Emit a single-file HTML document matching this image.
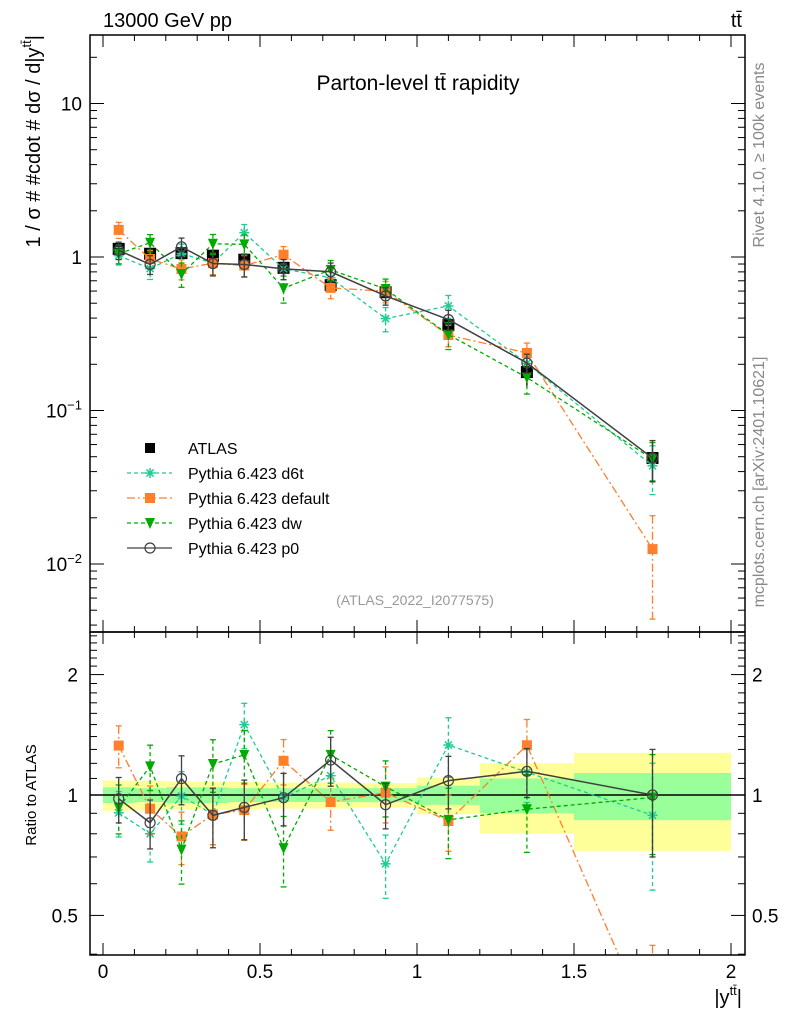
<!DOCTYPE html>
<html><head><meta charset="utf-8">
<style>
html,body{margin:0;padding:0;background:#fff;width:786px;height:1024px;overflow:hidden;}
svg{display:block;font-family:"Liberation Sans",sans-serif;}
</style></head>
<body>
<svg id="c" width="786" height="1024" xmlns="http://www.w3.org/2000/svg"></svg>
<script>
const xCenters=[0.05,0.15,0.25,0.35,0.45,0.575,0.725,0.9,1.1,1.35,1.75];
const binEdges=[0,0.1,0.2,0.3,0.4,0.5,0.65,0.8,1.0,1.2,1.5,2.0];
const atlasVals=[1.13,1.05,1.06,1.02,0.96,0.85,0.655,0.59,0.36,0.178,0.049];
const atlasTotErr=[0.087,0.085,0.08,0.08,0.08,0.075,0.075,0.07,0.105,0.2,0.275];
const atlasStatErr=[0.045,0.04,0.045,0.045,0.04,0.04,0.04,0.04,0.055,0.1,0.135];
const d6tVals=[1.02,0.84,1.054,0.912,1.44,0.837,0.732,0.397,0.48,0.203,0.0436];
const d6tErr=[0.13,0.15,0.15,0.16,0.13,0.15,0.14,0.18,0.17,0.16,0.35];
const defVals=[1.502,0.970,0.835,0.912,0.880,1.035,0.629,0.598,0.310,0.237,0.0125];
const defErr=[0.12,0.14,0.15,0.16,0.16,0.13,0.15,0.16,0.16,0.16,0.65];
const dwVals=[1.050,1.238,0.774,1.219,1.209,0.626,0.825,0.619,0.312,0.164,0.0483];
const dwErr=[0.14,0.13,0.18,0.15,0.15,0.2,0.15,0.16,0.2,0.22,0.28];
const p0Vals=[1.106,0.895,1.165,0.907,0.894,0.837,0.801,0.558,0.391,0.204,0.049];
const p0Err=[0.13,0.14,0.14,0.17,0.17,0.15,0.14,0.13,0.15,0.14,0.30];
const xTicks=[0,0.5,1,1.5,2];
const xTickLabels=["0","0.5","1","1.5","2"];

const NS="http://www.w3.org/2000/svg";
const svg=document.getElementById('c');
function mk(tag,attrs,parent){const e=document.createElementNS(NS,tag);for(const k in attrs)e.setAttribute(k,attrs[k]);(parent||svg).appendChild(e);return e;}
const L=90,R=745,T=35,MB=632,RB=955;
const X=v=>103+(v)*314;
const Y=v=>257-153.5*Math.log10(v);
const RY=v=>795-400*Math.log10(v);

const defs=mk('defs',{});
const cp1=mk('clipPath',{id:'cm'},defs);mk('rect',{x:L,y:T,width:R-L,height:MB-T},cp1);
const cp2=mk('clipPath',{id:'cr'},defs);mk('rect',{x:L,y:MB,width:R-L,height:RB-MB},cp2);

const gR=mk('g',{'clip-path':'url(#cr)'});

for(let i=0;i<xCenters.length;i++){
  const x1=X(binEdges[i]),x2=X(binEdges[i+1]);
  const b=mk('rect',{x:x1,y:RY(1+atlasTotErr[i]),width:x2-x1,height:RY(1-atlasTotErr[i])-RY(1+atlasTotErr[i]),fill:'#ffff99'},gR);
  
  
  const g=mk('rect',{x:x1,y:RY(1+atlasStatErr[i]),width:x2-x1,height:RY(1-atlasStatErr[i])-RY(1+atlasStatErr[i]),fill:'#99ff99'},gR);
  
  
}
mk('line',{x1:L,x2:R,y1:RY(1),y2:RY(1),stroke:'#000','stroke-width':1.5},gR);

const gM=mk('g',{'clip-path':'url(#cm)'});


function marker(parent,type,x,y,col){
  const s=5;
  if(type==='sq') return mk('rect',{x:x-s,y:y-s,width:2*s,height:2*s,fill:col},parent);
  if(type==='tri') return mk('polygon',{points:`${x-s},${y-s} ${x+s},${y-s} ${x},${y+s+1}`,fill:col},parent);
  if(type==='circ') return mk('circle',{cx:x,cy:y,r:5,fill:'none',stroke:col,'stroke-width':1.2},parent);
  if(type==='star'){const g=mk('g',{stroke:col,'stroke-width':1.5},parent);
    for(let a=0;a<4;a++){const t=a*Math.PI/4;mk('line',{x1:x-s*Math.cos(t),y1:y-s*Math.sin(t),x2:x+s*Math.cos(t),y2:y+s*Math.sin(t)},g);}return g;}
}
function series(name,vals,errs,col,dash,type,width){
  [[gM,Y,(i)=>vals[i]],[gR,RY,(i)=>vals[i]/atlasVals[i]]].forEach(([parent,yf,val],pi)=>{
    const g=mk('g',{},parent);
    
    
    const pts=xCenters.map((x,i)=>X(x)+','+yf(val(i))).join(' ');
    mk('polyline',{points:pts,fill:'none',stroke:col,'stroke-width':width,'stroke-dasharray':dash},g);
    xCenters.forEach((x,i)=>{
      const v=val(i),e=errs[i];
      const xx=X(x),yt=yf(v*(1+e)),yb=yf(Math.max(v*(1-e),1e-4));
      mk('line',{x1:xx,x2:xx,y1:yt,y2:yb,stroke:col,'stroke-width':1.3,'stroke-dasharray':dash},g);
      mk('line',{x1:xx-3,x2:xx+3,y1:yt,y2:yt,stroke:col,'stroke-width':1.3},g);
      mk('line',{x1:xx-3,x2:xx+3,y1:yb,y2:yb,stroke:col,'stroke-width':1.3},g);
      const m=marker(g,type,xx,yf(v),col);
      
      
    });
  });
}
const gA=mk('g',{},gM);

xCenters.forEach((x,i)=>{
  const v=atlasVals[i],e=atlasTotErr[i];
  mk('line',{x1:X(x),x2:X(x),y1:Y(v*(1+e)),y2:Y(v*(1-e)),stroke:'#000','stroke-width':1.3},gA);
  const m=mk('rect',{x:X(x)-6,y:Y(v)-6,width:12,height:12,fill:'#000'},gA);
  
  
});
series('pythia-d6t',d6tVals,d6tErr,'#1ecc94','4,3','star',1.3);
series('pythia-default',defVals,defErr,'#ff7f2a','8,3,2,3','sq',1.3);
series('pythia-dw',dwVals,dwErr,'#00aa00','4,3','tri',1.3);
series('pythia-p0',p0Vals,p0Err,'#404040','','circ',1.5);

mk('rect',{x:L,y:T,width:R-L,height:MB-T,fill:'none',stroke:'#000','stroke-width':1.5});
mk('rect',{x:L,y:MB,width:R-L,height:RB-MB,fill:'none',stroke:'#000','stroke-width':1.5});

const ax=mk('g',{stroke:'#000','stroke-width':1});

for(let k=0;k<=20;k++){
  const v=k*0.1,x=X(v),len=(k%5===0)?12:6;
  [[T,1],[MB,-1],[MB,1],[RB,-1]].forEach(([y0,d])=>mk('line',{x1:x,x2:x,y1:y0,y2:y0+d*len},ax));
}
xTicks.forEach((v,i)=>{
  const t=mk('text',{x:X(v),y:978,'font-size':19,'text-anchor':'middle',fill:'#000'});
  t.textContent=xTickLabels[i];
  
  
});
const ay=mk('g',{stroke:'#000','stroke-width':1});

for(let d=-3;d<=1;d++)for(let m=1;m<=9;m++){
  const v=m*Math.pow(10,d),y=Y(v);if(y<T||y>MB)continue;
  const len=m===1?14:7;
  mk('line',{x1:L,x2:L+len,y1:y,y2:y},ay);mk('line',{x1:R,x2:R-len,y1:y,y2:y},ay);
}
for(let k=4;k<=25;k++){
  const v=k/10,y=RY(v);if(y<MB||y>RB)continue;
  const len=(k===5||k===10||k===20)?14:7;
  mk('line',{x1:L,x2:L+len,y1:y,y2:y},ay);mk('line',{x1:R,x2:R-len,y1:y,y2:y},ay);
}
function txt(x,y,s,attrs,name){const t=mk('text',Object.assign({x:x,y:y,'font-size':19,fill:'#000'},attrs||{}));t.innerHTML=s;return t;}
txt(82,Y(10)+7,'10',{'text-anchor':'end'},'y-tick-label');
txt(82,Y(1)+7,'1',{'text-anchor':'end'},'y-tick-label');
txt(82,Y(0.1)+7,'10<tspan dy="-8" font-size="13">−1</tspan>',{'text-anchor':'end'},'y-tick-label');
txt(82,Y(0.01)+7,'10<tspan dy="-8" font-size="13">−2</tspan>',{'text-anchor':'end'},'y-tick-label');
[[2,'2'],[1,'1'],[0.5,'0.5']].forEach(([v,s])=>{
  txt(78,RY(v)+7,s,{'text-anchor':'end'},'ratio-tick-label');
  txt(752,RY(v)+7,s,{'text-anchor':'start'},'ratio-tick-label-right');
});
txt(103,27,'13000 GeV pp',{'font-size':20},'energy-label');
txt(742,27,'tt̄',{'font-size':20,'text-anchor':'end'},'process-label');
txt(418,90,'Parton-level tt̄ rapidity',{'font-size':21,'text-anchor':'middle'},'plot-title');
txt(415,605,'(ATLAS_2022_I2077575)',{'font-size':14,'text-anchor':'middle',fill:'#999'},'analysis-id');
txt(0,0,'1 / σ # #cdot # dσ / d|y<tspan dy="-9" font-size="13">tt̄</tspan><tspan dy="9">|</tspan>',{'font-size':20,'text-anchor':'end',transform:'translate(40,35) rotate(-90)'},'y-axis-title');
txt(0,0,'Ratio to ATLAS',{'font-size':15,'text-anchor':'middle',transform:'translate(36,795) rotate(-90)'},'ratio-axis-title');
txt(742,1004,'|y<tspan dy="-9" font-size="13">tt̄</tspan><tspan dy="9">|</tspan>',{'font-size':20,'text-anchor':'end'},'x-axis-title');
txt(0,0,'Rivet 4.1.0, ≥ 100k events',{'font-size':16,'text-anchor':'middle',fill:'#888',transform:'translate(764,155) rotate(-90)'},'rivet-label');
txt(0,0,'mcplots.cern.ch [arXiv:2401.10621]',{'font-size':16,'text-anchor':'middle',fill:'#888',transform:'translate(764,482) rotate(-90)'},'mcplots-label');

const lg=mk('g',{});

const legNames=['ATLAS','Pythia 6.423 d6t','Pythia 6.423 default','Pythia 6.423 dw','Pythia 6.423 p0'];
const legCols=['#000','#1ecc94','#ff7f2a','#00aa00','#404040'];
const legDash=['','4,3','8,3,2,3','4,3',''];
const legType=['sq','star','sq','tri','circ'];
legNames.forEach((n,i)=>{
  const y=448+i*25;
  const e=mk('g',{},lg);
  
  
  if(i>0) mk('line',{x1:127,x2:172,y1:y,y2:y,stroke:legCols[i],'stroke-width':1.3,'stroke-dasharray':legDash[i]},e);
  marker(e,legType[i],150,y,legCols[i]);
  const t=mk('text',{x:188,y:y+6,'font-size':16,fill:'#000'},e);t.textContent=n;
});
</script>
</body></html>
